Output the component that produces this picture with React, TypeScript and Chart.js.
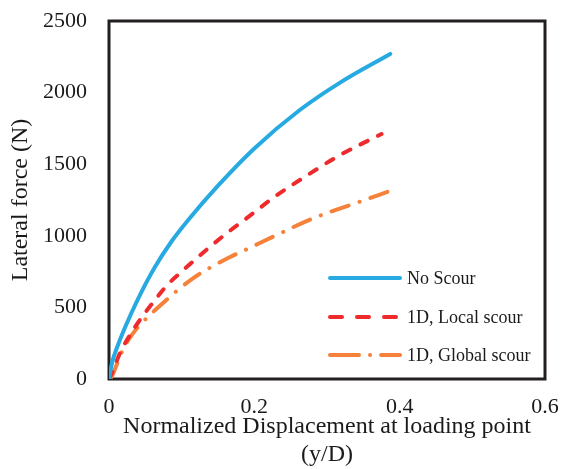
import React, { useEffect, useRef } from 'react';
import { Chart, registerables } from 'chart.js';

Chart.register(...registerables);

const xTicks = [0, 0.2, 0.4, 0.6];
const yTicks = [0, 500, 1000, 1500, 2000, 2500];
const seriesNames = ['No Scour', '1D, Local scour', '1D, Global scour'];

const noScourX = [0, 0.002, 0.005, 0.011, 0.022, 0.04, 0.063, 0.086, 0.109, 0.15, 0.2, 0.263, 0.318, 0.387];
const noScourY = [0, 60, 130, 220, 360, 560, 780, 960, 1110, 1350, 1610, 1880, 2070, 2270];

const localX = [0, 0.004, 0.015, 0.031, 0.045, 0.063, 0.08, 0.1, 0.121, 0.143, 0.165, 0.19, 0.226, 0.272, 0.318, 0.375];
const localY = [0, 40, 180, 325, 430, 550, 655, 750, 845, 940, 1030, 1125, 1265, 1420, 1564, 1711];

const globalX = [0, 0.004, 0.011, 0.02, 0.033, 0.047, 0.06, 0.072, 0.092, 0.116, 0.14, 0.166, 0.192, 0.226, 0.281, 0.345, 0.384];
const globalY = [0, 20, 105, 214, 319, 400, 465, 520, 610, 705, 780, 850, 912, 994, 1122, 1238, 1308];

const FONT = '"Liberation Serif", "Times New Roman", serif';
const TEXT = '#1a1a1a';
const colors = ['#27AAE1', '#EE2A2C', '#F5813A'];
const dashes: number[][] = [[], [8, 11.5], [18, 11.5, 0.1, 11.5]];
const legendDashes: number[][] = [[], [12, 15], [29, 11, 0.1, 11]];

const toPts = (xs: number[], ys: number[]) => xs.map((x, i) => ({ x, y: ys[i] }));

const boxPlugin = {
  id: 'plotBox',
  beforeDatasetsDraw(chart: any) {
    const { ctx, chartArea } = chart;
    ctx.save();
    ctx.strokeStyle = '#231f20';
    ctx.lineWidth = 3;
    ctx.strokeRect(chartArea.left, chartArea.top, chartArea.right - chartArea.left, chartArea.bottom - chartArea.top);
    ctx.restore();
  },
};

const legendPlugin = {
  id: 'inlineLegend',
  afterDatasetsDraw(chart: any) {
    const { ctx, chartArea } = chart;
    const x0 = chartArea.left + 221;
    const x1 = chartArea.left + 291;
    const tx = chartArea.left + 298;
    const rowY = [chartArea.top + 257, chartArea.top + 296, chartArea.top + 334];
    ctx.save();
    chart.data.datasets.forEach((ds: any, i: number) => {
      ctx.beginPath();
      ctx.strokeStyle = ds.borderColor;
      ctx.lineWidth = 4;
      ctx.lineCap = 'round';
      ctx.setLineDash(legendDashes[i]);
      ctx.moveTo(x0, rowY[i]);
      ctx.lineTo(x1, rowY[i]);
      ctx.stroke();
      ctx.setLineDash([]);
      ctx.fillStyle = TEXT;
      ctx.font = `18px ${FONT}`;
      ctx.textBaseline = 'middle';
      ctx.textAlign = 'left';
      ctx.fillText(ds.label, tx, rowY[i] + 1);
    });
    ctx.restore();
  },
};

export default function App() {
  const ref = useRef<HTMLCanvasElement | null>(null);

  useEffect(() => {
    document.body.style.margin = '0';
    if (!ref.current) return;
    const chart = new Chart(ref.current, {
      type: 'line',
      data: {
        datasets: [
          { label: seriesNames[0], data: toPts(noScourX, noScourY) },
          { label: seriesNames[1], data: toPts(localX, localY) },
          { label: seriesNames[2], data: toPts(globalX, globalY) },
        ].map((d, i) => ({
          ...d,
          borderColor: colors[i],
          backgroundColor: colors[i],
          borderWidth: 4,
          borderDash: dashes[i],
          borderCapStyle: 'round' as const,
          pointRadius: 0,
          fill: false,
          cubicInterpolationMode: 'monotone' as const,
        })),
      },
      options: {
        animation: false,
        responsive: false,
        maintainAspectRatio: false,
        layout: { padding: { left: 0, right: 17, top: 21, bottom: 0 } },
        plugins: {
          legend: { display: false },
          tooltip: { enabled: false },
        },
        scales: {
          x: {
            type: 'linear',
            min: 0,
            max: 0.6,
            grid: { display: false, drawTicks: false },
            border: { display: false },
            afterBuildTicks: (s: any) => {
              s.ticks = xTicks.map((v) => ({ value: v }));
            },
            afterFit: (s: any) => {
              s.height = 90;
              s.paddingLeft = 0;
              s.paddingRight = 0;
              s.paddingTop = 0;
              s.paddingBottom = 0;
            },
            ticks: {
              color: TEXT,
              font: { family: FONT, size: 22 },
              padding: 15,
              maxRotation: 0,
              autoSkip: false,
              callback: (v: any) => String(v),
            },
            title: {
              display: true,
              text: ['Normalized Displacement at loading point', '(y/D)'],
              color: TEXT,
              font: { family: FONT, size: 24, lineHeight: 1.15 },
              padding: { top: 0, bottom: 0.5 },
            },
          },
          y: {
            type: 'linear',
            min: 0,
            max: 2500,
            grid: { display: false, drawTicks: false },
            border: { display: false },
            afterBuildTicks: (s: any) => {
              s.ticks = yTicks.map((v) => ({ value: v }));
            },
            afterFit: (s: any) => {
              s.width = 109;
              s.paddingLeft = 0;
              s.paddingRight = 0;
              s.paddingTop = 0;
              s.paddingBottom = 0;
            },
            ticks: {
              color: TEXT,
              font: { family: FONT, size: 22 },
              padding: 22,
              autoSkip: false,
              callback: (v: any) => String(v),
            },
            title: {
              display: true,
              text: 'Lateral force (N)',
              color: TEXT,
              font: { family: FONT, size: 24, lineHeight: 1.15 },
              padding: { top: 7, bottom: 0 },
            },
          },
        },
      },
      plugins: [boxPlugin, legendPlugin],
    });
    return () => chart.destroy();
  }, []);

  return (
    <div style={{ width: 562, height: 469 }}>
      <canvas ref={ref} width={562} height={469} style={{ display: 'block', width: 562, height: 469 }} />
    </div>
  );
}
